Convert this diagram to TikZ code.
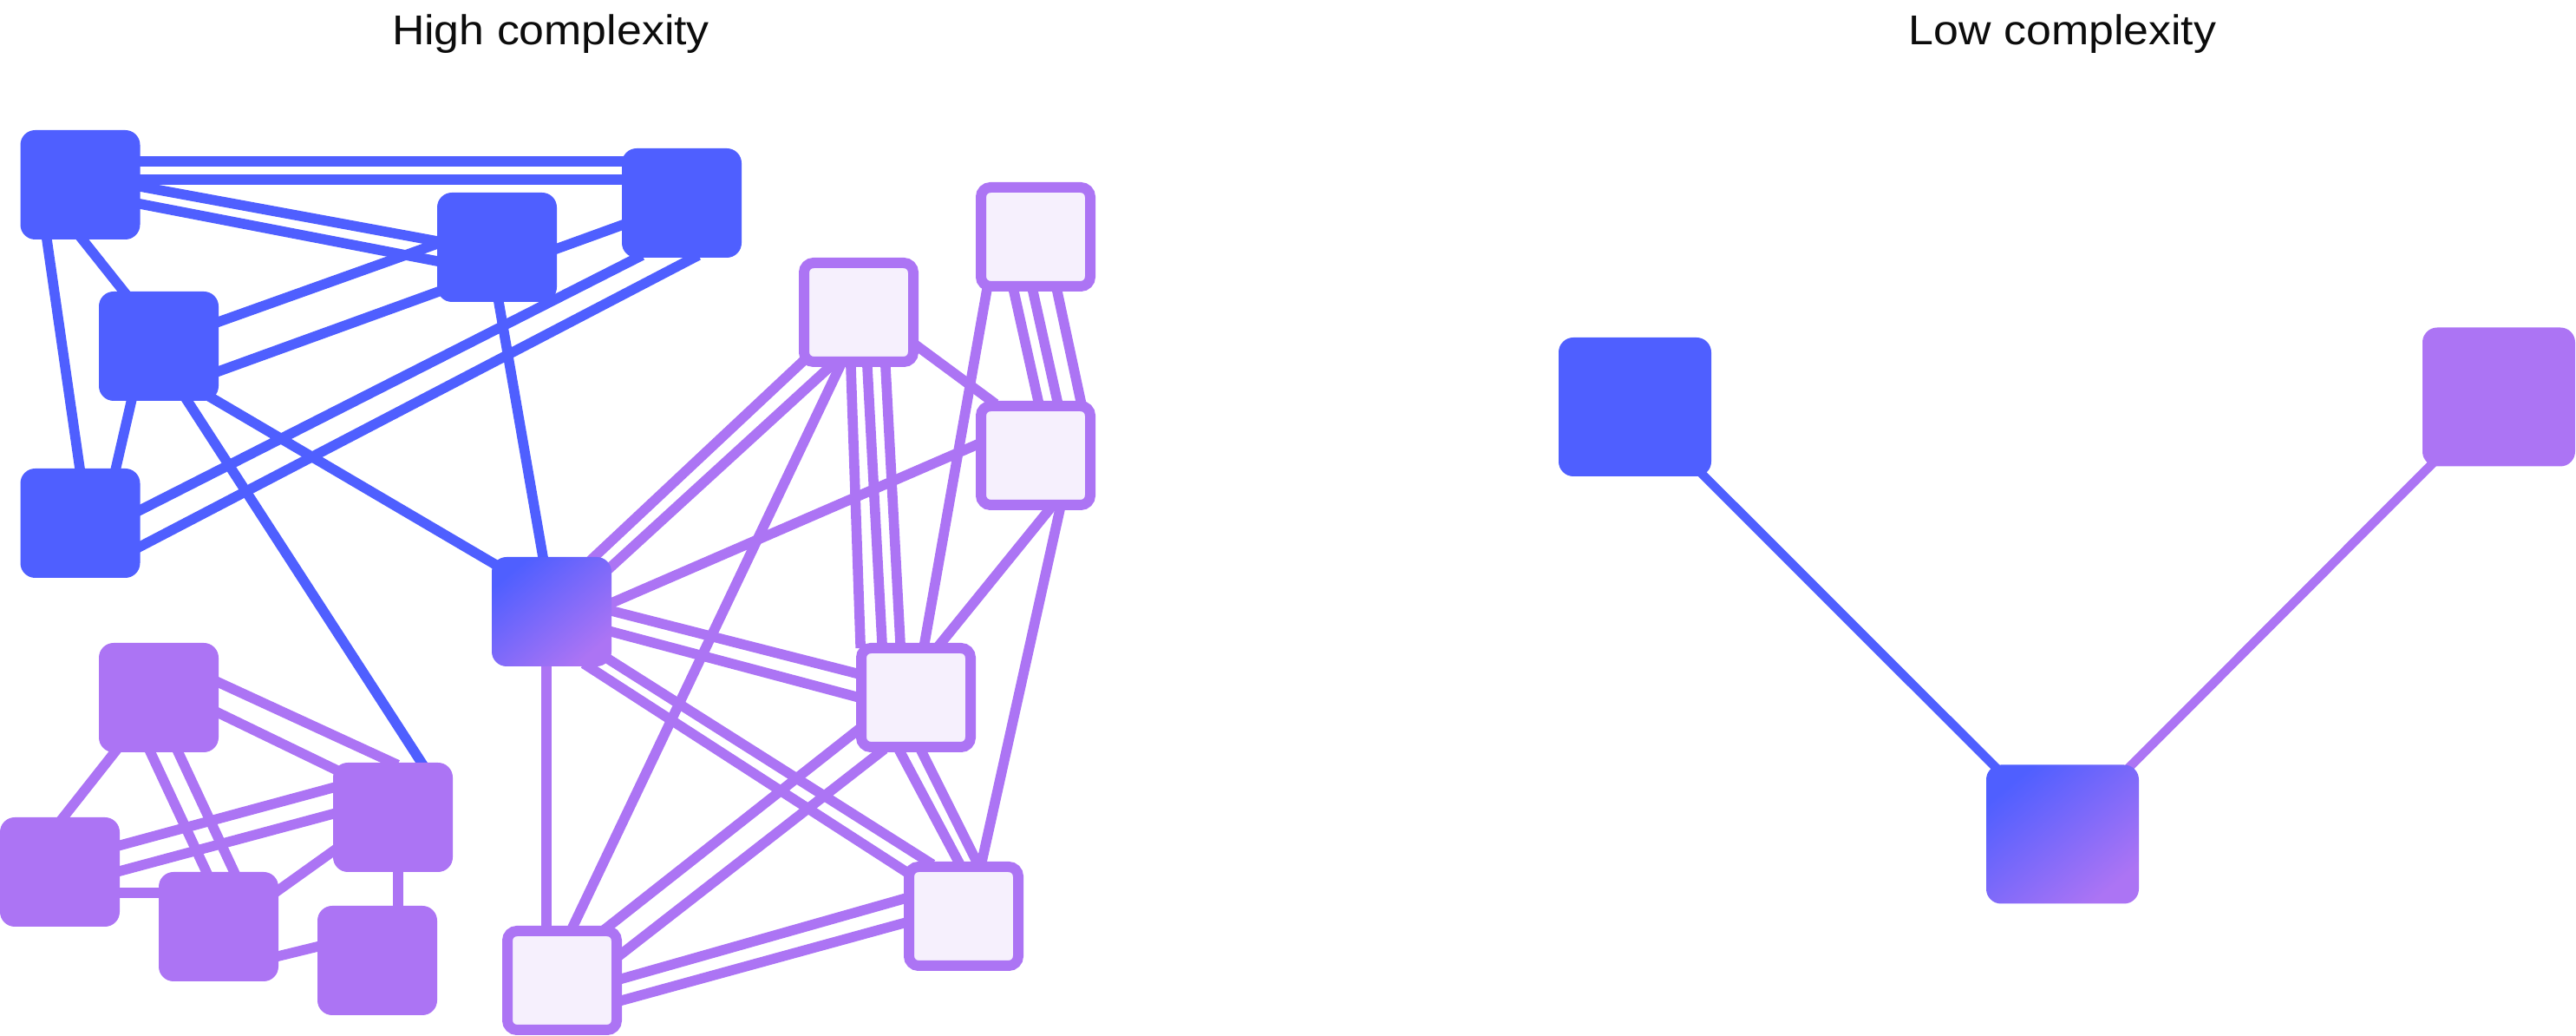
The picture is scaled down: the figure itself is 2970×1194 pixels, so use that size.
\documentclass[tikz,border=0pt]{standalone}
\usepackage{fontspec}
\usepackage{graphicx}
\setmainfont{Liberation Sans}
\usetikzlibrary{calc}
\definecolor{cblue}{RGB}{79,95,255}
\definecolor{cpurple}{RGB}{172,116,244}
\definecolor{clight}{RGB}{246,240,253}
\definecolor{ctext}{RGB}{12,12,12}
\pgfdeclarelayer{edges}
\pgfsetlayers{edges,main}
\newcommand\edgeline[5]{\draw[#1] ([shift={(#3)}]#2.center) -- ([shift={(#5)}]#4.center);}
\begin{document}
\begin{tikzpicture}[x=0.25pt,y=-0.25pt,
  boxbase/.style={rectangle, rounded corners=4.25pt, minimum width=34.5pt, minimum height=31.5pt, inner sep=0pt, draw=none},
  bnode/.style={boxbase, fill=cblue},
  pnode/.style={boxbase, fill=cpurple},
  gnode/.style={boxbase, top color=cblue, bottom color=cpurple, shading angle=40},
  lnode/.style={rectangle, rounded corners=2.75pt, minimum width=31.5pt, minimum height=28.5pt, inner sep=0pt, fill=clight, draw=cpurple, line width=3pt},
  bignode/.style={minimum width=44pt, minimum height=40pt},
  be/.style={draw=cblue, line width=2.9pt, shorten <=-1.5pt, shorten >=-1.5pt},
  pe/.style={draw=cpurple, line width=2.9pt, shorten <=-1.5pt, shorten >=-1.5pt},
  titletext/.style={anchor=base, text=ctext, inner sep=0pt, font=\fontsize{12pt}{14pt}\selectfont}
]
\useasboundingbox (0,0) rectangle (2970,1194);

% titles
\node[titletext] (T1) at (635,52) {\scalebox{1.08}[1]{High complexity}};
\node[titletext] (T2) at (2378,52) {\scalebox{1.08}[1]{Low complexity}};

% nodes, high complexity
\node[bnode] (B1) at (92.5,213) {};
\node[bnode] (B2) at (786,234) {};
\node[bnode] (B3) at (573,285) {};
\node[bnode] (B4) at (183,399) {};
\node[bnode] (B5) at (92.5,603) {};
\node[gnode] (G) at (636,705) {};
\node[pnode] (P1) at (183,804) {};
\node[pnode] (P2) at (453,942) {};
\node[pnode] (P3) at (69,1005) {};
\node[pnode] (P4) at (252,1068) {};
\node[pnode] (P5) at (435,1107) {};
\node[lnode] (L1) at (1194,273) {};
\node[lnode] (L2) at (990,360) {};
\node[lnode] (L3) at (1194,525) {};
\node[lnode] (L4) at (1056,804) {};
\node[lnode] (L5) at (1111,1056) {};
\node[lnode] (L6) at (648,1130) {};

% nodes, low complexity
\node[bnode,bignode] (RB) at (1885,469) {};
\node[pnode,bignode] (RP) at (2881,457.5) {};
\node[gnode,bignode] (RG) at (2378,961.5) {};

\begin{pgfonlayer}{edges}
% blue edges
\edgeline{be}{B1}{68.5,-27}{B2}{-69,-48}
\edgeline{be}{B1}{68.5,-6}{B2}{-69,-27}
\edgeline{be}{B1}{69,2}{B3}{-69,-7}
\edgeline{be}{B1}{69,22}{B3}{-69,16}
\edgeline{be}{B1}{2.5,63}{B4}{-41,-64}
\edgeline{be}{B1}{-38.5,63}{B5}{-0.5,-63}
\edgeline{be}{B4}{-31.5,63}{B5}{41,-63}
\edgeline{be}{B4}{69,-28}{B3}{-69,-4}
\edgeline{be}{B4}{69,29}{B2}{-69,25.5}
\edgeline{be}{B2}{-51,63}{B5}{69,-15}
\edgeline{be}{B2}{14,63}{B5}{69,27}
\edgeline{be}{B3}{2,63}{G}{-10,-63}
\edgeline{be}{B4}{60,59}{G}{-66,-55}
\edgeline{be}{B4}{33,63}{P2}{33,-63}
% purple edges
\edgeline{pe}{P1}{69,-17.5}{P2}{0,-63}
\edgeline{pe}{P1}{69,17.7}{P2}{-69,-56.4}
\edgeline{pe}{P1}{-50,62}{P3}{4,-63}
\edgeline{pe}{P1}{-10,62}{P4}{-14,-63}
\edgeline{pe}{P1}{22,62}{P4}{18,-63}
\edgeline{pe}{P3}{69,-30.6}{P2}{-69,-34.2}
\edgeline{pe}{P3}{69,-1}{P2}{-69,-4}
\edgeline{pe}{P3}{69,24}{P4}{-69,-39}
\edgeline{pe}{P4}{69,-42}{P2}{-69,39}
\edgeline{pe}{P2}{6,63}{P5}{24,-63}
\edgeline{pe}{P4}{69,34}{P5}{-69,-16}
\edgeline{pe}{G}{47.5,-61.6}{L2}{-65.5,57.6}
\edgeline{pe}{G}{66.6,-50}{L2}{-33,62.6}
\edgeline{pe}{L2}{-22,63}{L6}{12,-61}
\edgeline{pe}{G}{69,-10}{L3}{-69,-12}
\edgeline{pe}{G}{69,-1}{L4}{-69,-28}
\edgeline{pe}{G}{69,23}{L4}{-69,-1}
\edgeline{pe}{G}{66,55}{L5}{-41,-63}
\edgeline{pe}{G}{42,63}{L5}{-66,-51}
\edgeline{pe}{G}{-6,63}{L6}{-18,-63}
\edgeline{pe}{L2}{-9,63}{L4}{-64,-63}
\edgeline{pe}{L2}{10,63}{L4}{-39,-63}
\edgeline{pe}{L2}{31,63}{L4}{-18,-63}
\edgeline{pe}{L2}{69,40}{L3}{-51,-63}
\edgeline{pe}{L1}{-25,63}{L3}{3,-63}
\edgeline{pe}{L1}{-3,63}{L3}{25,-63}
\edgeline{pe}{L1}{25,63}{L3}{52,-63}
\edgeline{pe}{L1}{-56,60}{L4}{10,-63}
\edgeline{pe}{L3}{16,62}{L4}{29,-63}
\edgeline{pe}{L3}{28,62}{L5}{21,-63}
\edgeline{pe}{L4}{-18,63}{L5}{-6,-63}
\edgeline{pe}{L4}{7,63}{L5}{15,-63}
\edgeline{pe}{L4}{-69,39}{L6}{52,-61}
\edgeline{pe}{L4}{-41,63}{L6}{69,-31}
\edgeline{pe}{L5}{-69.5,-20}{L6}{69,-2}
\edgeline{pe}{L5}{-69.5,8}{L6}{69,23}
% low complexity edges
\draw[be, line width=2.6pt] (RB.center) -- (RG.center);
\draw[pe, line width=2.6pt] (RP.center) -- (RG.center);
\end{pgfonlayer}
\end{tikzpicture}
\end{document}
